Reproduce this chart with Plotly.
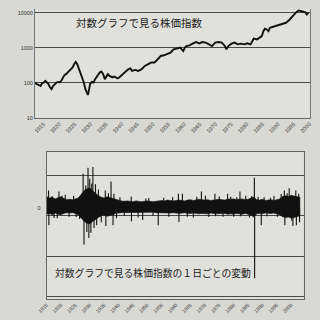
import plotly.graph_objects as go

# ---------------- top chart: index level (log scale) ----------------
top_years = [1912.3, 1912.9, 1913.5, 1914.1, 1914.5, 1915.1, 1915.6, 1916.1, 1916.6, 1917.1,
             1917.6, 1918.1, 1918.7, 1919.2, 1919.7, 1920.2, 1920.7, 1921.2, 1921.7, 1922.2,
             1922.8, 1923.3, 1923.8, 1924.3, 1924.8, 1925.3, 1925.8, 1926.4, 1926.9, 1927.4,
             1927.9, 1928.4, 1928.9, 1929.2, 1929.6, 1929.9, 1930.5, 1931.0, 1931.5, 1932.0,
             1932.5, 1933.0, 1933.5, 1934.1, 1934.6, 1935.1, 1935.6, 1936.1, 1936.6, 1937.1,
             1937.6, 1938.1, 1938.7, 1939.2, 1940.2, 1941.2, 1942.2, 1942.8, 1943.3, 1944.3,
             1945.3, 1946.4, 1947.4, 1948.4, 1949.4, 1950.5, 1951.5, 1952.5, 1953.5, 1954.5,
             1955.6, 1956.1, 1956.6, 1957.6, 1958.7, 1959.7, 1960.2, 1960.7, 1961.7, 1962.8,
             1963.8, 1964.8, 1965.8, 1966.9, 1967.9, 1968.9, 1969.9, 1971.0, 1972.0, 1973.0,
             1973.5, 1974.1, 1975.1, 1976.1, 1977.1, 1978.1, 1979.2, 1980.2, 1981.2, 1981.7,
             1982.2, 1983.3, 1984.3, 1984.8, 1985.3, 1985.8, 1986.4, 1986.9, 1987.4, 1988.4,
             1989.4, 1990.5, 1991.5, 1992.5, 1993.5, 1994.5, 1995.6, 1996.6, 1997.6, 1998.7,
             1999.2, 1999.7]
top_values = [98, 92, 83, 81, 96, 102, 114, 102, 92, 74,
              66, 82, 96, 102, 106, 102, 114, 142, 165, 176,
              197, 218, 233, 272, 337, 392, 337, 244, 197, 142,
              102, 66, 53, 45, 66, 92, 106, 102, 127, 151,
              176, 197, 210, 176, 127, 157, 176, 157, 151, 142,
              151, 142, 133, 142, 176, 205, 244, 255, 218, 233,
              218, 244, 302, 337, 377, 377, 468, 580, 607, 648,
              724, 803, 897, 939, 1003, 803, 1003, 1112, 1164, 1327,
              1445, 1327, 1445, 1390, 1244, 1112, 1390, 1445, 1390, 1112,
              897, 1112, 1300, 1390, 1244, 1300, 1244, 1327, 1244, 1543,
              1803, 1722, 2000, 2134, 2955, 3458, 3303, 2955, 3690, 3944,
              4289, 4578, 4791, 5117, 6058, 7866, 9818, 11620, 10890, 10200,
              8790, 9818]
top_ticks = [10, 100, 1000, 10000]
top_tick_text = ["10", "100", "1000", "10000"]
year_ticks = list(range(1915, 2001, 5))

# ---------------- bottom chart: daily changes ----------------
band_years = list(range(1915, 2004))
band_hi = [2.8, 2.4, 2.6, 2.2, 2.5, 2.7, 2.3, 2.0, 2.1, 2.0,
           2.2, 2.4, 3.3, 4.2, 4.7, 4.9, 4.2, 3.5, 3.0, 2.6,
           2.4, 2.7, 2.5, 2.2, 2.0, 1.8, 1.7, 1.6, 1.7, 1.6,
           1.5, 1.7, 1.6, 1.5, 1.6, 1.7, 1.6, 1.5, 1.6, 1.7,
           1.8, 1.7, 1.9, 1.8, 1.7, 1.8, 1.9, 1.8, 1.7, 1.9,
           2.0, 1.8, 1.9, 2.1, 2.0, 1.9, 2.0, 1.8, 1.9, 2.0,
           2.1, 2.0, 1.9, 2.2, 2.1, 2.2, 2.0, 2.1, 2.2, 2.0,
           2.1, 2.4, 2.6, 2.0, 1.9, 2.1, 1.8, 1.9, 2.0, 1.8,
           2.0, 2.2, 2.8, 3.0, 2.8, 3.1, 2.9, 2.8, 2.6]
band_lo = [-1.6, -1.4, -1.7, -1.3, -1.6, -1.7, -1.4, -1.2, -1.3, -1.2,
           -1.4, -1.7, -2.6, -3.3, -3.8, -4.0, -3.4, -2.8, -2.4, -2.0,
           -1.8, -2.1, -1.9, -1.7, -1.4, -1.3, -1.2, -1.1, -1.2, -1.1,
           -1.1, -1.2, -1.1, -1.1, -1.2, -1.2, -1.1, -1.1, -1.2, -1.2,
           -1.3, -1.2, -1.3, -1.3, -1.2, -1.3, -1.4, -1.3, -1.2, -1.4,
           -1.4, -1.3, -1.4, -1.5, -1.4, -1.4, -1.5, -1.3, -1.4, -1.5,
           -1.5, -1.4, -1.4, -1.6, -1.5, -1.6, -1.4, -1.5, -1.6, -1.4,
           -1.5, -1.8, -2.3, -1.5, -1.4, -1.5, -1.3, -1.4, -1.4, -1.3,
           -1.5, -1.7, -2.2, -2.4, -2.3, -2.5, -2.4, -2.3, -2.0]
spike_years = [1915.7, 1915.8, 1916.9, 1917.6, 1918.7, 1919.3, 1920.4, 1921.5, 1922.8, 1924.4,
               1925.3, 1926.5, 1927.7, 1928.0, 1928.6, 1929.0, 1929.4, 1929.7, 1930.0, 1930.4,
               1930.7, 1931.1, 1931.5, 1932.0, 1932.4, 1933.0, 1934.0, 1935.4, 1935.6, 1936.5,
               1937.4, 1938.1, 1938.4, 1939.3, 1940.5, 1942.0, 1944.4, 1944.5, 1946.8, 1948.4,
               1949.5, 1950.5, 1952.0, 1953.8, 1955.7, 1957.5, 1958.8, 1960.8, 1961.0, 1962.2,
               1963.9, 1966.0, 1967.2, 1968.8, 1970.2, 1971.4, 1973.5, 1973.7, 1975.0, 1976.3,
               1977.9, 1979.0, 1980.0, 1981.1, 1982.2, 1982.4, 1984.2, 1985.5, 1986.3, 1987.2,
               1987.3, 1988.5, 1989.6, 1990.6, 1991.6, 1992.8, 1994.0, 1995.2, 1996.5, 1997.6,
               1997.8, 1998.6, 1999.3, 2000.2, 2000.6, 2001.6, 2001.8, 2002.6, 2002.9]
spike_values = [4.3, -4.3, 2.9, -2.5, -2.6, 4.0, 3.0, 3.2, -2.2, 3.0,
                -2.3, -2.8, 8.4, -9.1, 5.5, -6.0, 9.9, -7.5, 7.2, -6.2,
                6.0, 10.1, -5.0, 5.8, -4.3, 4.5, -3.6, 4.3, -4.5, 3.6,
                6.5, -4.3, 3.5, -2.6, 2.6, -2.0, 2.8, -3.3, -2.4, -3.0,
                2.3, 2.4, -2.0, -4.3, 2.5, -2.2, 2.6, 3.5, -3.5, 3.5,
                -2.2, -2.4, 2.7, 4.0, 3.0, -2.3, 3.5, -2.1, 2.8, -2.2,
                3.5, 2.7, -2.2, 2.6, 4.0, -2.1, 3.0, -2.4, 2.9, 7.4,
                -17.4, 2.7, -4.3, 2.6, -2.1, 2.5, 2.9, -2.2, 3.4, 4.3,
                -4.3, 3.6, 4.8, -3.2, -4.5, 4.3, -4.3, 3.5, -3.6]
grid_values = [8, -2, -12, -22]

title_top = "対数グラフで見る株価指数"
title_bottom = "対数グラフで見る株価指数の１日ごとの変動"

FONT = "Noto Sans CJK JP"

fig = go.Figure()

fig.add_trace(go.Scatter(x=top_years, y=top_values, mode="lines",
                         line=dict(color="#111111", width=1.9),
                         xaxis="x", yaxis="y", showlegend=False))

band_x = band_years + band_years[::-1]
band_y = band_hi + band_lo[::-1]
fig.add_trace(go.Scatter(x=band_x, y=band_y, mode="lines", fill="toself",
                         fillcolor="#111111", line=dict(color="#111111", width=0.6),
                         xaxis="x2", yaxis="y2", showlegend=False))

sx, sy = [], []
for yr, v in zip(spike_years, spike_values):
    sx += [yr, yr, None]
    sy += [0, v, None]
fig.add_trace(go.Scatter(x=sx, y=sy, mode="lines",
                         line=dict(color="#111111", width=1.1),
                         xaxis="x2", yaxis="y2", showlegend=False))

W = 320.0
axis_font = dict(family="Liberation Sans", size=5.5, color="#333333")

fig.update_layout(
    width=320, height=320,
    margin=dict(l=0, r=0, t=0, b=0),
    paper_bgcolor="#d8d8d4",
    plot_bgcolor="#e0e0dc",
    font=dict(family=FONT, color="#222222"),
    xaxis=dict(domain=[26 / W, 312 / W], range=[1912.3, 2000.3], anchor="y",
               tickmode="array", tickvals=year_ticks, tickangle=-45,
               tickfont=axis_font, showgrid=False, zeroline=False,
               showline=True, linecolor="#666666", linewidth=1, ticks=""),
    yaxis=dict(domain=[(320 - 119) / W, (320 - 9.5) / W], type="log", range=[1, 4.09],
               anchor="x", tickmode="array", tickvals=top_ticks, ticktext=top_tick_text,
               tickfont=axis_font, showgrid=True, gridcolor="#4a4a4a", gridwidth=1,
               zeroline=False, showline=True, linecolor="#777777", linewidth=1,
               mirror=True, ticks=""),
    xaxis2=dict(domain=[38 / W, 305 / W], range=[1915, 2004.3], anchor="y2",
                tickmode="array", tickvals=year_ticks, tickangle=-45,
                tickfont=dict(family="Liberation Sans", size=5, color="#333333"),
                showgrid=False, zeroline=False, showline=True, linecolor="#666666",
                linewidth=1, mirror=True, ticks=""),
    yaxis2=dict(domain=[(320 - 302) / W, (320 - 153) / W], range=[-22.6, 13.9],
                anchor="x2", tickmode="array", tickvals=[0], ticktext=["0"],
                tickfont=axis_font, showgrid=False, zeroline=False,
                showline=True, linecolor="#666666", linewidth=1, mirror=True, ticks="",
                ticklabelstandoff=4,
                minor=dict(tickmode="array", tickvals=grid_values, showgrid=True,
                           gridcolor="#4a4a4a", gridwidth=1, ticks="")),
    annotations=[
        dict(text=title_top, xref="paper", yref="paper", x=67 / W, y=(320 - 23) / W,
             xanchor="left", yanchor="middle", showarrow=False,
             font=dict(family=FONT, size=10.5, color="#222222")),
        dict(text=title_bottom, xref="paper", yref="paper", x=45 / W, y=(320 - 276) / W,
             xanchor="left", yanchor="middle", showarrow=False,
             font=dict(family=FONT, size=9.8, color="#222222")),
    ],
)

fig.write_html("out.html")
